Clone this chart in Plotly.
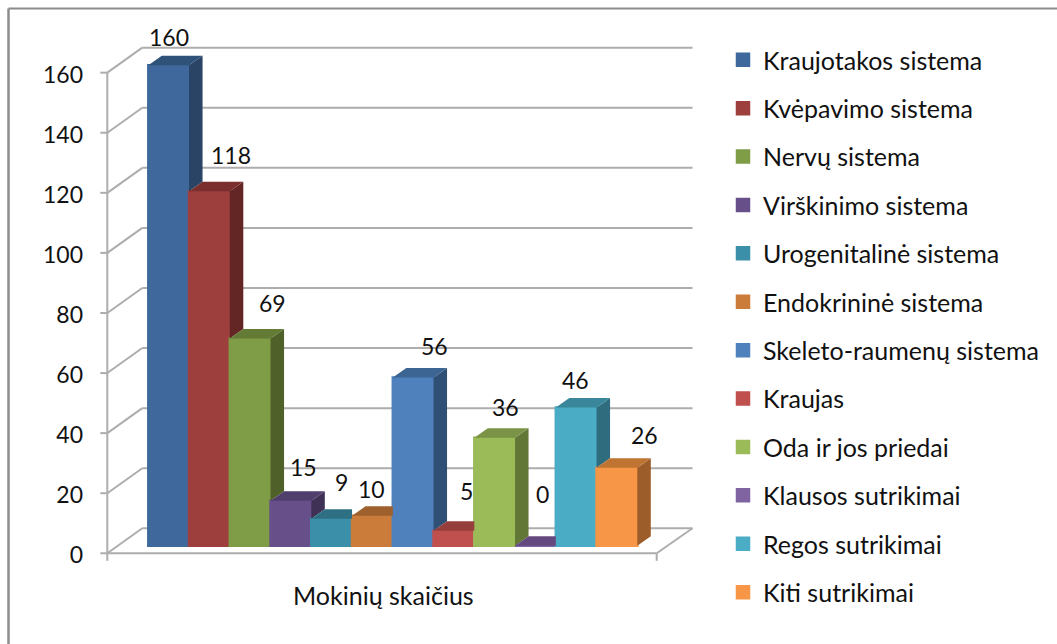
import plotly.graph_objects as go

categories = ["Kraujotakos sistema", "Kvėpavimo sistema", "Nervų sistema", "Virškinimo sistema",
              "Urogenitalinė sistema", "Endokrininė sistema", "Skeleto-raumenų sistema", "Kraujas",
              "Oda ir jos priedai", "Klausos sutrikimai", "Regos sutrikimai", "Kiti sutrikimai"]
values = [160, 118, 69, 15, 9, 10, 56, 5, 36, 0, 46, 26]
axis_ticks = [0, 20, 40, 60, 80, 100, 120, 140, 160]
axis_title = "Mokinių skaičius"

front = ["#3F699C", "#9D3F3D", "#7F9C47", "#67508A", "#3B8FA8", "#CB7C3A",
         "#4F81BD", "#C0504D", "#9BBB59", "#8064A2", "#4BACC6", "#F79646"]
top = ["#2F5279", "#7A2F2E", "#647B36", "#503E6C", "#2E6F83", "#9E602C",
       "#3D6593", "#963E3C", "#7A9346", "#63497F", "#3A879B", "#C07431"]
side = ["#2A4465", "#632625", "#4F6129", "#3F3155", "#245A69", "#804D23",
        "#2F4F75", "#792F2D", "#627635", "#503E66", "#2F6C7D", "#9C5D2A"]

label_dx = [0, 22, 22, 13, 10, -1, 21, 13, 11, 7, -1, 28]
label_dy = [-28, -36, -36, -34, -37, -27, -32, -40, -31, -52, -28, -33]

W, H = 1057, 644
PX_Y = 3.004           # px per value unit
PX_X = 40.75           # px per bar slot
Y0 = 553.3             # pixel of value 0
X0 = 148.3             # pixel of x = 0
L, R, T, B = 84, W, 0, H

BASE = 2.5             # bars stand on the floor, above the front axis edge
DX = 13.5 / PX_X       # bar depth
DY = 9.5 / PX_Y
WX = 35 / PX_X         # wall depth
WY = 25 / PX_Y
xl = (107.3 - X0) / PX_X   # front-left corner of the floor
xr = (656.7 - X0) / PX_X   # front-right corner of the floor

fig = go.Figure()
n = len(values)
for i, (c, v) in enumerate(zip(categories, values)):
    fig.add_trace(go.Bar(x=[i + 0.5], y=[v], base=[BASE], width=[1], name=c,
                         marker=dict(color=front[i], line=dict(color=front[i], width=2.5)),
                         legendgroup=c, showlegend=True, hoverinfo="skip"))

for i, v in enumerate(values):
    nxt = values[i + 1] if i + 1 < n else 0
    b = BASE + v
    # right side, hidden below the next bar's top
    if nxt < v or i + 1 == n:
        s = BASE + nxt
        fig.add_trace(go.Scatter(x=[i + 1, i + 1 + DX, i + 1 + DX, i + 1, i + 1],
                                 y=[b, b + DY, s + DY, s, b], mode="lines", fill="toself",
                                 fillcolor=side[i], line=dict(width=0), showlegend=False,
                                 hoverinfo="skip"))
    # top face, cut where the next bar's front hides it
    if nxt > v:
        xs = [i, i + 1, i + 1, i + DX, i]
    else:
        xs = [i, i + 1, i + 1 + DX, i + DX, i]
    ys = [b, b, b + DY, b + DY, b]
    fig.add_trace(go.Scatter(x=xs, y=ys, mode="lines", fill="toself", fillcolor=top[i],
                             line=dict(width=0), showlegend=False, hoverinfo="skip"))

GRID = "#ADADAD"
shapes = []
def seg(x0, y0, x1, y1, w=2):
    shapes.append(dict(type="line", layer="below", xref="x", yref="y", x0=x0, y0=y0, x1=x1, y1=y1,
                       line=dict(color=GRID, width=w)))
xback = xl + WX
xright = (692.5 - X0) / PX_X
for t in axis_ticks:
    seg(xl, t, xback, t + WY)
    seg(xback, t + WY, xright, t + WY)
    seg(xl - 7 / PX_X, t, xl, t)
seg(xr, 0, xright, WY)
seg(xl, 0, xl, axis_ticks[-1])
seg(xl, 0, xr, 0)
seg(xl, 0, xl, -7.5 / PX_Y)
seg(xr, 0, xr, -7.5 / PX_Y)

def px(p):
    return (p - L) / (R - L)
def py(p):
    return (B - p) / (B - T)

shapes += [
    dict(type="line", xref="paper", yref="paper", x0=px(8.5), x1=px(W), y0=py(8.5), y1=py(8.5),
         line=dict(color="#8C8C8C", width=2)),
    dict(type="line", xref="paper", yref="paper", x0=px(8.5), x1=px(8.5), y0=py(8.5), y1=py(H),
         line=dict(color="#8C8C8C", width=2.5)),
]

annotations = [dict(x=i + 0.5, y=BASE + v, xref="x", yref="y", text=str(v), showarrow=False,
                    xshift=label_dx[i], yshift=-label_dy[i], font=dict(size=23, color="#111111"))
               for i, v in enumerate(values)]
annotations.append(dict(x=(383 - X0) / PX_X, y=-(595 - Y0) / PX_Y, xref="x", yref="y", text=axis_title,
                        showarrow=False, font=dict(size=25, color="#111111")))

fig.update_layout(
    width=W, height=H, autosize=False,
    margin=dict(l=L, r=W - R, t=T, b=H - B, pad=0),
    paper_bgcolor="white", plot_bgcolor="white",
    font=dict(family="Lato, Carlito, sans-serif", size=23, color="#111111"),
    barmode="overlay", shapes=shapes, annotations=annotations,
    xaxis=dict(range=[(L - X0) / PX_X, (R - X0) / PX_X], showgrid=False, zeroline=False,
               showline=False, showticklabels=False, ticks=""),
    yaxis=dict(range=[(Y0 - B) / PX_Y, (Y0 - T) / PX_Y], tickvals=axis_ticks, ticks="", showgrid=False,
               zeroline=False, showline=False, automargin=False, ticklabelshift=2),
    legend=dict(x=px(723), y=py(37), xanchor="left", yanchor="top", maxheight=600,
                tracegroupgap=12.9, traceorder="grouped", font=dict(size=25, family="Lato, Carlito, sans-serif"),
                itemclick=False, itemdoubleclick=False, bgcolor="rgba(0,0,0,0)"),
)
fig.write_html("out.html", config={"displayModeBar": False},
               post_script="document.body.style.margin='0';document.body.style.overflow='hidden';")
